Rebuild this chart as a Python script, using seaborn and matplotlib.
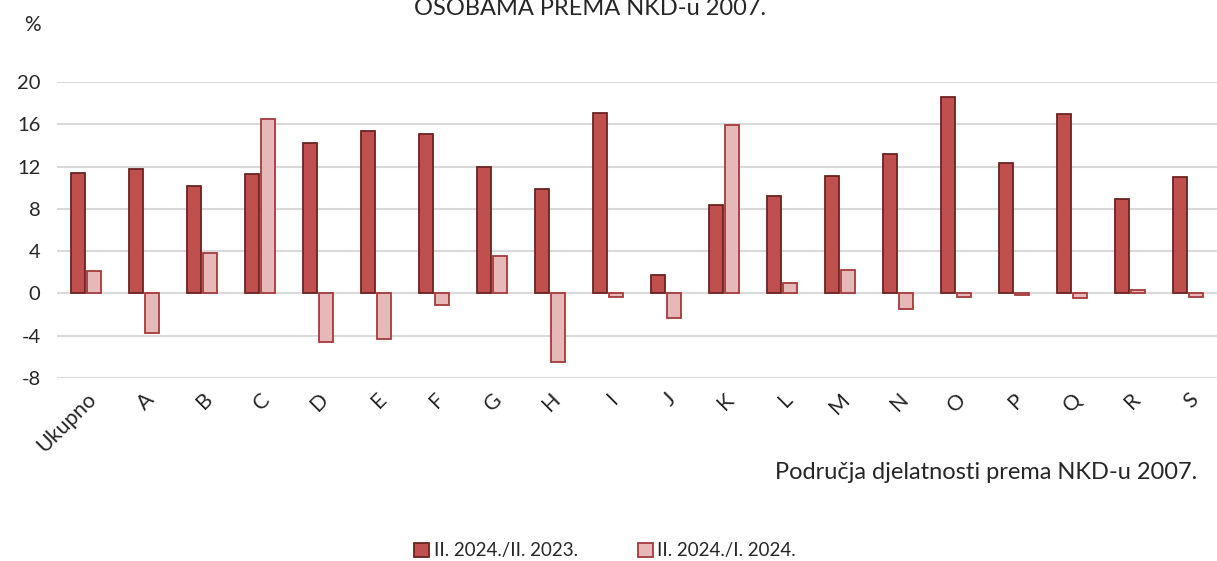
import numpy as np
import pandas as pd
import matplotlib.pyplot as plt
import seaborn as sns
from matplotlib.patches import Patch

categories = ['Ukupno', 'A', 'B', 'C', 'D', 'E', 'F', 'G', 'H', 'I',
              'J', 'K', 'L', 'M', 'N', 'O', 'P', 'Q', 'R', 'S']
yoy = [11.4, 11.8, 10.2, 11.3, 14.2, 15.4, 15.1, 12.0, 9.9, 17.1,
       1.7, 8.4, 9.2, 11.1, 13.2, 18.6, 12.3, 17.0, 8.9, 11.0]
mom = [2.1, -3.7, 3.8, 16.5, -4.6, -4.3, -1.1, 3.5, -6.5, -0.3,
       -2.3, 15.9, 1.0, 2.2, -1.5, -0.3, -0.1, -0.4, 0.3, -0.3]
series = ['II. 2024./II. 2023.', 'II. 2024./I. 2024.']

df = pd.DataFrame({
    'cat': categories * 2,
    'val': yoy + mom,
    'series': [series[0]] * len(categories) + [series[1]] * len(categories),
})

sns.set_style('white')
plt.rcParams['font.family'] = ['Lato', 'DejaVu Sans']
plt.rcParams['axes.unicode_minus'] = False

fig = plt.figure(figsize=(12.17, 5.61), dpi=100)
ax = fig.add_axes([0.047, 0.326, 0.953, 0.528])

fills = {series[0]: '#C0504D', series[1]: '#E6B9B8'}
edges = {series[0]: '#6B2220', series[1]: '#A5393A'}

sns.barplot(data=df, x='cat', y='val', hue='series', palette=fills, saturation=1,
            width=0.534, gap=0.1, ax=ax, legend=False, zorder=3)

# per-series edge colours
n = len(categories)
for i, patch in enumerate(ax.patches[:2 * n]):
    s = series[0] if i < n else series[1]
    patch.set_edgecolor(edges[s])
    patch.set_linewidth(1.3)

ax.set_ylim(-8, 20)
ax.set_yticks(np.arange(-8, 21, 4))
ax.set_xlim(-0.5, n - 0.5)
ax.yaxis.grid(True, color='#D9D9D9', linewidth=1.5, zorder=0)
ax.set_axisbelow(True)
for sp in ax.spines.values():
    sp.set_visible(False)
ax.tick_params(axis='y', labelsize=14.5, length=0, pad=12)
ax.tick_params(axis='x', labelsize=15.5, length=0, pad=8)
plt.setp(ax.get_xticklabels(), rotation=45, ha='right', rotation_mode='anchor')
ax.set_xlabel('')
ax.set_ylabel('')

fig.text(0.485, 0.985, 'OSOBAMA PREMA NKD-u 2007.', ha='center', va='center', fontsize=17)
fig.text(0.027, 0.955, '%', ha='center', va='center', fontsize=15)
fig.text(0.984, 0.157, 'Područja djelatnosti prema NKD-u 2007.', ha='right', va='center', fontsize=17)

handles = [Patch(facecolor=fills[s], edgecolor=edges[s], linewidth=1.3, label=s) for s in series]
fig.legend(handles=handles, loc='center', bbox_to_anchor=(0.497, 0.018), ncol=2,
           frameon=False, fontsize=13.5, handlelength=0.8, handleheight=0.8,
           handletextpad=0.25, columnspacing=3.2)

fig.savefig('out.png', dpi=100)
